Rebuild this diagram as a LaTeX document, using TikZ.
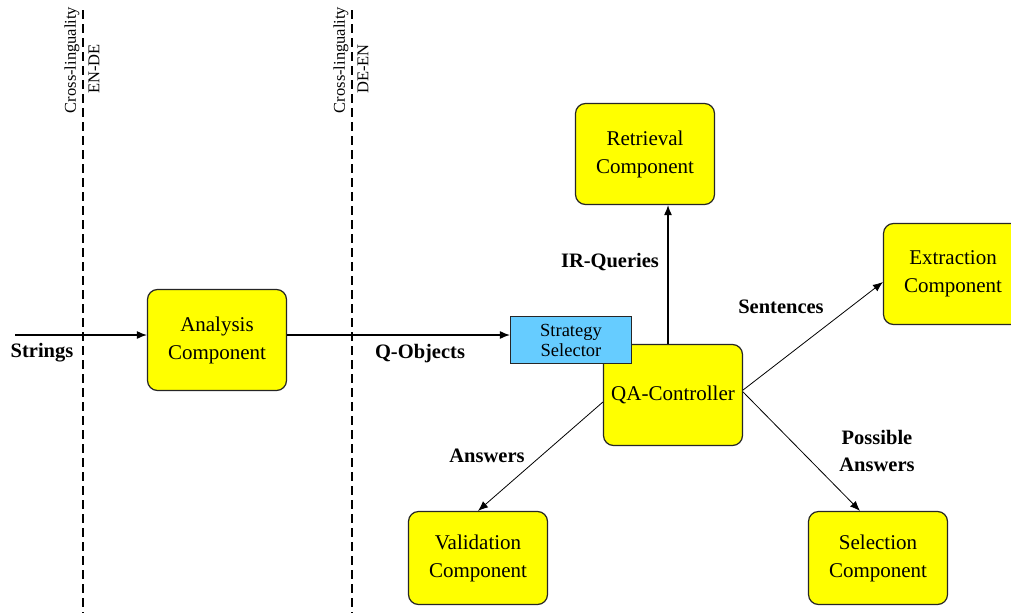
\documentclass[tikz,border=0pt]{standalone}
\usepackage{fontspec}
\setmainfont{Liberation Serif}
\usetikzlibrary{arrows.meta}
\definecolor{compyellow}{HTML}{FFFF00}
\definecolor{selblue}{HTML}{66CCFF}
\begin{document}
\begin{tikzpicture}[x=1pt,y=-1pt,
  comp/.style={draw=black!85, line width=1.2pt, fill=compyellow, rounded corners=10pt,
    minimum width=139pt, minimum height=101pt, align=center, inner sep=0pt,
    font=\fontsize{21}{28}\selectfont},
  selbox/.style={draw=black!85, line width=1.2pt, fill=selblue,
    minimum width=121pt, minimum height=47pt, align=center, inner sep=0pt,
    font=\fontsize{18.5}{20}\selectfont},
  lbl/.style={font=\bfseries\fontsize{20.5}{27}\selectfont, align=center, inner sep=0pt},
  xling/.style={rotate=90, font=\fontsize{16.5}{18}\selectfont, inner sep=0pt},
  border/.style={dash pattern=on 9pt off 5pt, line width=1.1pt},
  conn/.style={line width=1.2pt, -{Latex[length=10pt,width=8pt]}},
  diag/.style={line width=0.8pt, -{Latex[length=10pt,width=8pt]}}
]
\clip (0,0) rectangle (1011,613);
\fill[white] (0,0) rectangle (1011,613);

% language borders
\coordinate (b1t) at (83,10);
\coordinate (b1b) at (83,613);
\coordinate (b2t) at (352,10);
\coordinate (b2b) at (352,613);
\draw[border] (b1t) -- (b1b);
\draw[border] (b2t) -- (b2b);
\node[xling] (x1a) at (72,60) {Cross-linguality};
\node[xling] (x1b) at (94,69) {EN-DE};
\node[xling] (x2a) at (341,60) {Cross-linguality};
\node[xling] (x2b) at (363,69) {DE-EN};

% components
\node[comp] (ana) at (217,340) {Analysis\\Component};
\node[comp] (ret) at (645,154) {Retrieval\\Component};
\node[comp] (ext) at (953,274) {Extraction\\Component};
\node[comp] (qa) at (673,395) {QA-Controller};
\node[comp, minimum height=93pt] (val) at (478,558) {Validation\\Component};
\node[comp, minimum height=93pt] (sel) at (878,558) {Selection\\Component};
\node[selbox] (strat) at (571,340) {Strategy\\Selector};

% connectors
\coordinate (sin) at (15,335);
\draw[conn] (sin) -- (sin -| ana.west);
\draw[conn] ([yshift=5pt]ana.east) -- ([yshift=5pt]ana.east -| strat.west);
\draw[conn] ([xshift=-5pt]qa.north) -- ([xshift=-5pt]qa.north |- ret.south);
\draw[diag] ([yshift=5pt]qa.east) -- ([yshift=-8pt]ext.west);
\draw[diag] ([yshift=3pt]qa.east) -- ([xshift=-18pt]sel.north);
\draw[diag] ([yshift=-7pt]qa.west) -- (val.north);

% labels
\node[lbl] (lstr) at (42,353) {Strings};
\node[lbl] (lqo) at (420,354) {Q-Objects};
\node[lbl] (lir) at (610,262) {IR-Queries};
\node[lbl] (lsen) at (781,307) {Sentences};
\node[lbl] (lpos) at (877,451) {Possible\\Answers};
\node[lbl] (lans) at (487,456) {Answers};
\end{tikzpicture}
\end{document}
